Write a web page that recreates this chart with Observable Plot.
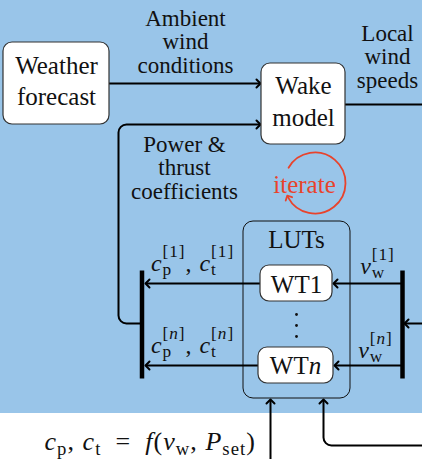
<!DOCTYPE html>
<html><head><meta charset="utf-8">
<script src="https://cdn.jsdelivr.net/npm/d3@7"></script>
<script src="https://cdn.jsdelivr.net/npm/@observablehq/plot@0.6"></script>
<style>
html,body{margin:0;padding:0;background:#fff;}
svg text{white-space:pre;}
</style></head><body><div id="chart"></div>
<script>
// ---------------- data ----------------
const W = 422, H = 459;
const FONT = "'Liberation Serif', 'Times New Roman', serif";

// blue panel
const panels = [{x1: 0, x2: 422, y1: 0, y2: 413}];

// white rounded blocks
const blocks = [
  {label: "Weather\nforecast", x1: 3,   x2: 109, y1: 42,  y2: 124, cx: 56,  base: 73,  lh: 31},
  {label: "Wake\nmodel",       x1: 261, x2: 345, y1: 63,  y2: 144, cx: 303, base: 93,  lh: 32},
  {label: "WT1",               x1: 260, x2: 332, y1: 265, y2: 301, cx: 296, base: 292, lh: 0},
  {label: "WT$n$",             x1: 258, x2: 333, y1: 347, y2: 383, cx: 295, base: 373, lh: 0}
];

// LUTs container
const containers = [{label: "LUTs", x1: 243, x2: 350, y1: 221, y2: 398, cx: 296, base: 247}];

// free text labels
const labels = [
  {text: "Ambient\nwind\nconditions",     cx: 185, base: 25,  lh: 23.5},
  {text: "Local\nwind\nspeeds",           cx: 387, base: 40,  lh: 23.5},
  {text: "Power &\nthrust\ncoefficients", cx: 184, base: 151, lh: 23.5}
];

// math labels
const mathLabels = [
  {text: "$c_{p}^{[1]}, c_{t}^{[1]}$", cx: 192, base: 270},
  {text: "$c_{p}^{[n]}, c_{t}^{[n]}$", cx: 192, base: 352},
  {text: "$v_{w}^{[1]}$",             cx: 377, base: 273},
  {text: "$v_{w}^{[n]}$",             cx: 375, base: 357}
];
const formula = [{text: "$c_{p}, c_{t}\u2002=\u2002f(v_{w}, P_{set})$", x: 44, base: 449}];

// iterate loop
const iterateLabel = [{text: "iterate", cx: 304, base: 192}];
const iterateLoop = {cx: 314.5, cy: 182.5, r: 30.5, startDeg: 210, endDeg: 152};

// connectors with arrowheads
const arrows = [
  {id: "a1", pts: [[109, 83], [258, 83]]},
  {id: "a2", pts: [[142, 323], [118, 323], [118, 124], [258, 124]]},
  {id: "a3", pts: [[260, 283], [147, 283]]},
  {id: "a4", pts: [[258, 365], [147, 365]]},
  {id: "a5", pts: [[402, 283], [335, 283]]},
  {id: "a6", pts: [[402, 365], [336, 365]]},
  {id: "a7", pts: [[422, 323], [406, 323]]},
  {id: "a8", pts: [[270, 459], [270, 401]]},
  {id: "a9", pts: [[422, 445], [323, 445], [323, 401]]}
];
// plain connectors
const plainLines = [
  {id: "p1", pts: [[345, 104], [422, 104]]}
];
// thick distribution bars
const bars = [
  {id: "b1", pts: [[141.5, 270], [141.5, 378]]},
  {id: "b2", pts: [[402, 270], [402, 378]]}
];
// vertical ellipsis between WT1 and WTn
const ellipsis = [{x: 296, y: 314}, {x: 296, y: 325}, {x: 296, y: 336}];

// ---------------- helpers ----------------
const flat = (list) => list.flatMap(d => d.pts.map(([x, y]) => ({id: d.id, x, y})));
const lines = (list) => list.flatMap(d => d.text.split("\n").map((t, i) => ({t, x: d.cx, y: d.base + i * d.lh})));

function rounded(r) {
  return function(context) {
    let pts;
    return {
      areaStart() {}, areaEnd() {},
      lineStart() { pts = []; },
      point(x, y) { pts.push([+x, +y]); },
      lineEnd() {
        if (!pts.length) return;
        context.moveTo(pts[0][0], pts[0][1]);
        for (let i = 1; i < pts.length - 1; ++i) context.arcTo(pts[i][0], pts[i][1], pts[i + 1][0], pts[i + 1][1], r);
        const l = pts[pts.length - 1];
        context.lineTo(l[0], l[1]);
      }
    };
  };
}
function arcCurve(context) {
  let pts;
  return {
    areaStart() {}, areaEnd() {},
    lineStart() { pts = []; },
    point(x, y) { pts.push([+x, +y]); },
    lineEnd() {
      const [s, c, e] = pts;
      const r = Math.hypot(s[0] - c[0], s[1] - c[1]);
      const a0 = Math.atan2(s[1] - c[1], s[0] - c[0]);
      const a1 = Math.atan2(e[1] - c[1], e[0] - c[0]);
      context.moveTo(s[0], s[1]);
      context.arc(c[0], c[1], r, a0, a1, false);
    }
  };
}
const L = iterateLoop, rad = Math.PI / 180;
const loopPts = [
  {x: L.cx + L.r * Math.cos(L.startDeg * rad), y: L.cy + L.r * Math.sin(L.startDeg * rad)},
  {x: L.cx, y: L.cy},
  {x: L.cx + L.r * Math.cos(L.endDeg * rad), y: L.cy + L.r * Math.sin(L.endDeg * rad)}
];

const blockLines = blocks.flatMap(d => d.label.split("\n").map((t, i) => ({t, x: d.cx, y: d.base + i * d.lh})));

const svg = Plot.plot({
  width: W, height: H, margin: 0,
  x: {domain: [0, W], range: [0, W], axis: null},
  y: {domain: [0, H], range: [0, H], axis: null},
  style: {fontFamily: FONT, background: "white", overflow: "visible"},
  marks: [
    Plot.rect(panels, {x1: "x1", x2: "x2", y1: "y1", y2: "y2", fill: "#99c5e9"}),
    Plot.rect(containers, {x1: "x1", x2: "x2", y1: "y1", y2: "y2", fill: "none", stroke: "#111", strokeWidth: 1, rx: 10}),
    Plot.line(flat(plainLines), {x: "x", y: "y", z: "id", stroke: "black", strokeWidth: 2, curve: rounded(8)}),
    Plot.line(flat(arrows), {x: "x", y: "y", z: "id", stroke: "black", strokeWidth: 2, curve: rounded(8), markerEnd: "arrow"}),
    Plot.line(flat(bars), {x: "x", y: "y", z: "id", stroke: "black", strokeWidth: 4.5, strokeLinecap: "butt"}),
    Plot.rect(blocks, {x1: "x1", x2: "x2", y1: "y1", y2: "y2", fill: "white", stroke: "#333", strokeWidth: 1.2, rx: 9}),
    Plot.text(blockLines, {x: "x", y: "y", text: "t", fontSize: 25, lineAnchor: "bottom", fontFamily: FONT, fill: "#111"}),
    Plot.text(containers, {x: "cx", y: "base", text: "label", fontSize: 25, lineAnchor: "bottom", fontFamily: FONT, fill: "#111"}),
    Plot.text(lines(labels), {x: "x", y: "y", text: "t", fontSize: 23, lineAnchor: "bottom", fontFamily: FONT, fill: "#111"}),
    Plot.text(mathLabels, {x: "cx", y: "base", text: "text", fontSize: 24, lineAnchor: "bottom", fontFamily: FONT, fill: "#111"}),
    Plot.text(formula, {x: "x", y: "base", text: "text", fontSize: 26, lineAnchor: "bottom", textAnchor: "start", fontFamily: FONT, fill: "#111"}),
    Plot.dot(ellipsis, {x: "x", y: "y", r: 1.4, fill: "#111"}),
    Plot.text(iterateLabel, {x: "cx", y: "base", text: "text", fontSize: 25, lineAnchor: "bottom", fontFamily: FONT, fill: "#e8432c"}),
    Plot.line(loopPts, {x: "x", y: "y", stroke: "#e8432c", strokeWidth: 1.8, curve: arcCurve, markerEnd: "arrow"})
  ]
});
document.getElementById("chart").append(svg);

// ---------------- math typesetting ----------------
function tokenize(str) {
  const out = [];
  let math = false, i = 0;
  const pushChar = (ch, italic) => {
    const last = out[out.length - 1];
    if (last && !last.group && last.italic === italic) last.t += ch;
    else out.push({t: ch, italic});
  };
  while (i < str.length) {
    const ch = str[i];
    if (ch === "$") { math = !math; i++; continue; }
    if (math && (ch === "_" || ch === "^")) {
      let content;
      if (str[i + 1] === "{") { const k = str.indexOf("}", i + 2); content = str.slice(i + 2, k); i = k + 1; }
      else { content = str[i + 1]; i += 2; }
      out.push({group: ch === "_" ? "sub" : "sup", content});
      continue;
    }
    pushChar(ch, math && /[A-Za-z]/.test(ch));
    i++;
  }
  return out;
}
function groupRuns(content, letterItalic) {
  const runs = [];
  for (const ch of content) {
    const it = letterItalic && /[A-Za-z]/.test(ch);
    const last = runs[runs.length - 1];
    if (last && last.italic === it) last.t += ch; else runs.push({t: ch, italic: it});
  }
  return runs;
}
function renderMath(el) {
  const NS = "http://www.w3.org/2000/svg";
  const base = parseFloat(getComputedStyle(el).fontSize);
  const small = base * 0.72;
  const isMath = el.textContent.trim().startsWith("$");
  const tokens = tokenize(el.textContent);
  el.textContent = "";
  if (isMath) el.setAttribute("letter-spacing", (base * 0.04).toFixed(2));
  let cur = 0, prev = null;
  const add = (text, italic, size, shift, dx) => {
    const ts = document.createElementNS(NS, "tspan");
    ts.textContent = text;
    if (italic) ts.setAttribute("font-style", "italic");
    if (size !== base) ts.setAttribute("font-size", size);
    if (shift !== cur) { ts.setAttribute("dy", shift - cur); cur = shift; }
    if (dx) ts.setAttribute("dx", dx);
    el.appendChild(ts);
    return ts;
  };
  for (const tok of tokens) {
    if (tok.group) {
      const shift = tok.group === "sub" ? base * 0.2 : -base * 0.55;
      let dx = 0;
      if (tok.group === "sup" && prev && prev.type === "sub") dx = -prev.spans.reduce((s, t) => s + t.getComputedTextLength(), 0);
      const spans = [];
      for (const run of groupRuns(tok.content, tok.group === "sup")) spans.push(add(run.t, run.italic, small, shift, spans.length ? 0 : dx));
      prev = {type: tok.group, spans};
    } else {
      add(tok.t, tok.italic, base, 0, 0);
      prev = null;
    }
  }
}
svg.querySelectorAll("text").forEach(el => { if (el.textContent.includes("$")) renderMath(el); });
</script>
</body></html>
